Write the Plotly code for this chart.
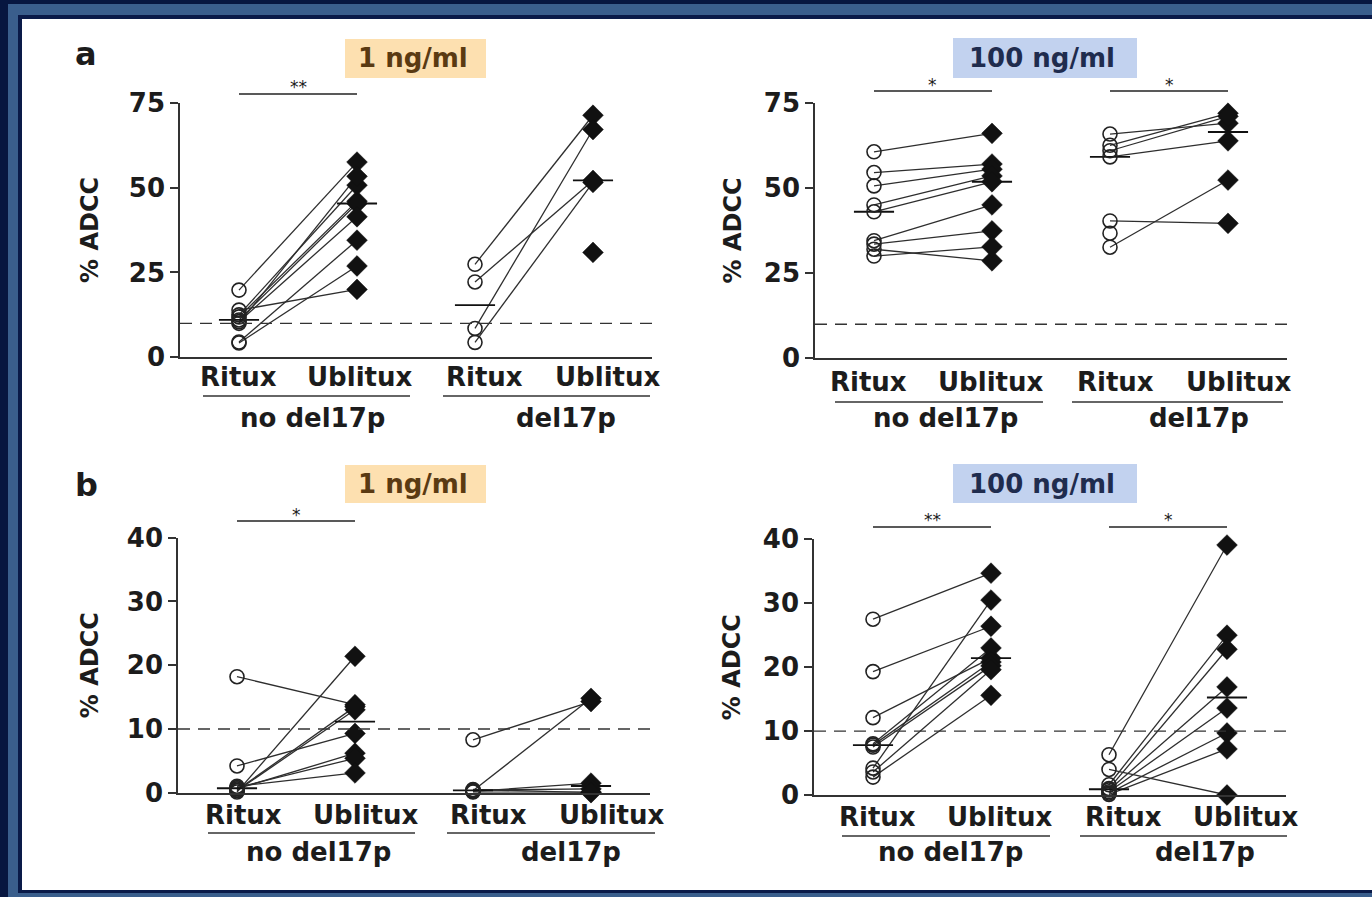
import plotly.graph_objects as go
import numpy as np

W, H = 1372, 897

# ---------------- data ----------------
categories = ["Ritux", "Ublitux"]
groups = ["no del17p", "del17p"]
panel_letters = ["a", "b"]
conc_labels = ["1 ng/ml", "100 ng/ml"]
y_ticks_a = [0, 25, 50, 75]
y_ticks_b = [0, 10, 20, 30, 40]
threshold = 10

# a, 1 ng/ml
a1_nodel_ritux = [19.8, 13.9, 12.5, 11.9, 11.0, 10.5, 10.0, 4.5, 4.2]
a1_nodel_ublitux = [57.5, 20.0, 50.7, 46.0, 45.3, 41.4, 53.3, 34.5, 26.9]
a1_del_ritux = [27.4, 22.2, 8.5, 4.4, None]
a1_del_ublitux = [71.3, 52.1, 67.1, 51.5, 30.9]
# a, 100 ng/ml
a100_nodel_ritux = [60.6, 54.5, 50.6, 45.0, 43.0, 34.5, 33.5, 32.0, 30.0]
a100_nodel_ublitux = [66.0, 57.0, 55.5, 53.5, 51.8, 45.0, 37.4, 28.6, 32.7]
a100_del_ritux = [65.8, 62.5, 60.9, 59.1, 40.3, 32.6, 36.7]
a100_del_ublitux = [69.0, 71.9, 71.0, 63.8, 39.6, 52.3, None]
# b, 1 ng/ml
b1_nodel_ritux = [18.2, 4.2, 0.1, 0.3, 0.4, 0.6, 0.8, 1.0]
b1_nodel_ublitux = [13.8, 9.3, 21.4, 13.0, 13.5, 6.2, 5.4, 3.1]
b1_del_ritux = [8.3, 0.3, 0.2, 0.4, 0.1, 0.5]
b1_del_ublitux = [14.3, 14.8, 1.5, 0.6, 0.1, 0.0]
# b, 100 ng/ml
b100_nodel_ritux = [27.5, 19.3, 12.1, 8.0, 7.8, 7.5, 4.2, 3.6, 2.8]
b100_nodel_ublitux = [34.7, 26.4, 21.4, 23.0, 20.8, 20.2, 30.5, 19.6, 15.6]
b100_del_ritux = [6.3, 4.0, 1.6, 1.0, 0.8, 0.5, 0.3, 0.1]
b100_del_ublitux = [39.1, 0.0, 25.0, 22.8, 16.9, 13.6, 9.7, 7.2]

significance_a1 = ["**", None]
significance_a100 = ["*", "*"]
significance_b1 = ["*", None]
significance_b100 = ["**", "*"]

# ---------------- layout helpers ----------------
def px(x):
    return x / W


def py(y):
    return 1 - y / H


FONT = "DejaVu Sans"
INK = "#1c1c1c"
LINE = "#2e2e2e"

panels = [
    dict(data=[(a1_nodel_ritux, a1_nodel_ublitux), (a1_del_ritux, a1_del_ublitux)],
         sig=significance_a1, ticks=y_ticks_a, yr=75,
         dx=(180, 652), dy=(102.7, 357.3),
         xlab_y=377, under_y=396, glab_y=418,
         xlab=[238, 360, 484, 607], under=[(203, 410), (443, 650)], glab=[312, 566],
         bar_y=94, star_y=87, ytitle_x=90),
    dict(data=[(a100_nodel_ritux, a100_nodel_ublitux), (a100_del_ritux, a100_del_ublitux)],
         sig=significance_a100, ticks=y_ticks_a, yr=75,
         dx=(815, 1287), dy=(102.7, 358.3),
         xlab_y=382, under_y=402, glab_y=418,
         xlab=[869, 991, 1115, 1238], under=[(835, 1043), (1072, 1283)], glab=[946, 1199],
         bar_y=91, star_y=85, ytitle_x=732),
    dict(data=[(b1_nodel_ritux, b1_nodel_ublitux), (b1_del_ritux, b1_del_ublitux)],
         sig=significance_b1, ticks=y_ticks_b, yr=40,
         dx=(178, 650), dy=(537.7, 792.7),
         xlab_y=815, under_y=833, glab_y=852,
         xlab=[243, 365, 488, 611], under=[(208, 415), (447, 655)], glab=[318, 571],
         bar_y=521, star_y=515, ytitle_x=90),
    dict(data=[(b100_nodel_ritux, b100_nodel_ublitux), (b100_del_ritux, b100_del_ublitux)],
         sig=significance_b100, ticks=y_ticks_b, yr=40,
         dx=(814, 1286), dy=(539.3, 795),
         xlab_y=817, under_y=836, glab_y=852,
         xlab=[877, 1000, 1123, 1245], under=[(842, 1050), (1080, 1287)], glab=[950, 1205],
         bar_y=527, star_y=520, ytitle_x=732),
]

fig = go.Figure()
shapes = []
annotations = []

# frame
shapes.append(dict(type="rect", xref="paper", yref="paper", x0=0, x1=1, y0=0, y1=1,
                   fillcolor="#071640", line=dict(width=0), layer="below"))
shapes.append(dict(type="rect", xref="paper", yref="paper", x0=px(8), x1=1.01, y0=-0.01, y1=py(4),
                   fillcolor="#3a5e8c", line=dict(width=0), layer="below"))
shapes.append(dict(type="rect", xref="paper", yref="paper", x0=px(18), x1=1.01, y0=py(893), y1=py(15),
                   fillcolor="#0a1a48", line=dict(width=0), layer="below"))
shapes.append(dict(type="rect", xref="paper", yref="paper", x0=px(22), x1=1.01, y0=py(890), y1=py(19),
                   fillcolor="#ffffff", line=dict(width=0), layer="below"))

for i, p in enumerate(panels):
    sfx = "" if i == 0 else str(i + 1)
    xa, ya = "x" + sfx, "y" + sfx
    # pair lines
    for g, (rit, ubl) in enumerate(p["data"]):
        xr, xu = 1 + 2 * g, 2 + 2 * g
        for r, u in zip(rit, ubl):
            if r is not None and u is not None:
                fig.add_trace(go.Scatter(x=[xr, xu], y=[r, u], mode="lines",
                                         line=dict(color=LINE, width=1.3),
                                         xaxis=xa, yaxis=ya, cliponaxis=False,
                                         showlegend=False, hoverinfo="skip"))
    for g, (rit, ubl) in enumerate(p["data"]):
        xr, xu = 1 + 2 * g, 2 + 2 * g
        rv = [v for v in rit if v is not None]
        uv = [v for v in ubl if v is not None]
        # medians
        for xc, vals in ((xr, rv), (xu, uv)):
            m = float(np.median(vals))
            fig.add_trace(go.Scatter(x=[xc - 0.17, xc + 0.17], y=[m, m], mode="lines",
                                     line=dict(color="#111", width=1.8),
                                     xaxis=xa, yaxis=ya, cliponaxis=False,
                                     showlegend=False, hoverinfo="skip"))
        fig.add_trace(go.Scatter(x=[xr] * len(rv), y=rv, mode="markers",
                                 marker=dict(symbol="circle-open", size=14, color="#222",
                                             line=dict(width=1.6, color="#222")),
                                 xaxis=xa, yaxis=ya, cliponaxis=False, showlegend=False))
        fig.add_trace(go.Scatter(x=[xu] * len(uv), y=uv, mode="markers",
                                 marker=dict(symbol="diamond", size=16, color="#111",
                                             line=dict(width=0.5, color="#111")),
                                 xaxis=xa, yaxis=ya, cliponaxis=False, showlegend=False))
    # threshold
    shapes.append(dict(type="line", xref=xa, yref=ya, x0=0.5, x1=4.5, y0=threshold, y1=threshold,
                       line=dict(color="#333", width=1.4, dash="12px,8px")))

    fig.layout["xaxis" + sfx] = dict(domain=[px(p["dx"][0]), px(p["dx"][1])], range=[0.5, 4.5],
                                     anchor=ya, showline=True, linecolor="#333", linewidth=1.5,
                                     showticklabels=False, ticks="", showgrid=False, zeroline=False,
                                     automargin=False)
    fig.layout["yaxis" + sfx] = dict(domain=[py(p["dy"][1]), py(p["dy"][0])], range=[0, p["yr"]],
                                     anchor=xa, showline=True, linecolor="#333", linewidth=1.5,
                                     tickvals=p["ticks"], ticks="outside", ticklen=8, tickwidth=1.5,
                                     tickcolor="#333", showgrid=False, zeroline=False, automargin=False,
                                     tickfont=dict(family=FONT, size=26, color=INK, weight="bold"))
    # y title
    annotations.append(dict(text="% ADCC", xref="paper", yref="paper", x=px(p["ytitle_x"]),
                            y=py((p["dy"][0] + p["dy"][1]) / 2), textangle=-90, showarrow=False,
                            font=dict(family=FONT, size=24, color=INK, weight="bold"),
                            xanchor="center", yanchor="middle"))
    # category labels
    for k, xc in enumerate(p["xlab"]):
        annotations.append(dict(text=categories[k % 2], xref="paper", yref="paper", x=px(xc),
                                y=py(p["xlab_y"]), showarrow=False, xanchor="center", yanchor="middle",
                                font=dict(family=FONT, size=26, color=INK, weight="bold")))
    for g, (x0, x1) in enumerate(p["under"]):
        shapes.append(dict(type="line", xref="paper", yref="paper", x0=px(x0), x1=px(x1),
                           y0=py(p["under_y"]), y1=py(p["under_y"]), line=dict(color="#333", width=1.5)))
        annotations.append(dict(text=groups[g], xref="paper", yref="paper", x=px(p["glab"][g]),
                                y=py(p["glab_y"]), showarrow=False, xanchor="center", yanchor="middle",
                                font=dict(family=FONT, size=26, color=INK, weight="bold")))
    # significance
    for g, s in enumerate(p["sig"]):
        if s is None:
            continue
        shapes.append(dict(type="line", xref=xa, yref="paper", x0=1 + 2 * g, x1=2 + 2 * g,
                           y0=py(p["bar_y"]), y1=py(p["bar_y"]), line=dict(color="#222", width=1.5)))
        annotations.append(dict(text=s, xref=xa, yref="paper", x=1.5 + 2 * g, y=py(p["star_y"]),
                                showarrow=False, xanchor="center", yanchor="middle",
                                font=dict(family=FONT, size=17, color=INK)))

# concentration boxes
conc_boxes = [
    (conc_labels[0], (345, 39, 486, 78), "#fde0b0", "#5a3a12"),
    (conc_labels[1], (953, 38, 1137, 78), "#c2d2ef", "#1f2c4e"),
    (conc_labels[0], (345, 465, 486, 503), "#fde0b0", "#5a3a12"),
    (conc_labels[1], (953, 464, 1137, 503), "#c2d2ef", "#1f2c4e"),
]
for txt, (x0, y0, x1, y1), fc, tc in conc_boxes:
    shapes.append(dict(type="rect", xref="paper", yref="paper", x0=px(x0), x1=px(x1), y0=py(y1), y1=py(y0),
                       fillcolor=fc, line=dict(width=0), layer="below"))
    annotations.append(dict(text=txt, xref="paper", yref="paper", x=px((x0 + x1) / 2 - 3), y=py((y0 + y1) / 2),
                            showarrow=False, xanchor="center", yanchor="middle",
                            font=dict(family=FONT, size=26, color=tc, weight="bold")))

for letter, (lx, ly) in zip(panel_letters, [(86, 54), (86, 485)]):
    annotations.append(dict(text=letter, xref="paper", yref="paper", x=px(lx), y=py(ly),
                            showarrow=False, xanchor="center", yanchor="middle",
                            font=dict(family=FONT, size=32, color=INK, weight="bold")))

fig.update_layout(width=W, height=H, autosize=False, margin=dict(l=0, r=0, t=0, b=0, pad=0),
                  paper_bgcolor="#ffffff", plot_bgcolor="rgba(0,0,0,0)",
                  shapes=shapes, annotations=annotations, showlegend=False)

fig.write_html("out.html")
